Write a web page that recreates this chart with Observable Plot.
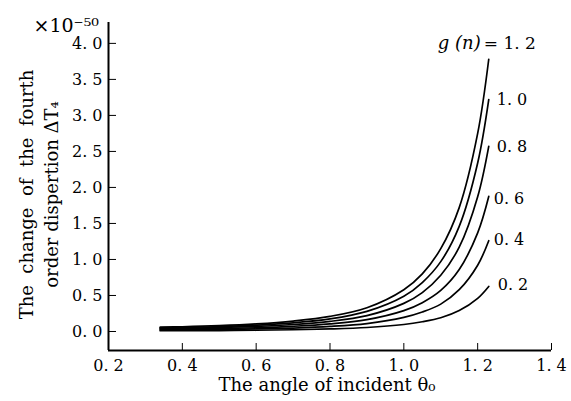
<!DOCTYPE html>
<html><head><meta charset="utf-8">
<script src="https://cdn.jsdelivr.net/npm/d3@7"></script>
<script src="https://cdn.jsdelivr.net/npm/@observablehq/plot@0.6"></script>
<style>body{margin:0;background:#fff}</style>
</head><body><div id="chart"></div>
<script>
// incident angle theta0 (rad)
const angles = [0.34, 0.4, 0.5, 0.6, 0.7, 0.8, 0.9, 1.0, 1.05, 1.1, 1.15, 1.2, 1.23];
// change of fourth order dispersion (x 10^-50), one array per g(n)
const g12 = [0.06, 0.065, 0.08, 0.105, 0.145, 0.21, 0.33, 0.58, 0.80, 1.15, 1.72, 2.75, 3.78];
const g10 = [0.05, 0.055, 0.067, 0.088, 0.12, 0.175, 0.28, 0.49, 0.68, 0.97, 1.46, 2.34, 3.22];
const g08 = [0.04, 0.044, 0.054, 0.07, 0.097, 0.14, 0.22, 0.39, 0.54, 0.78, 1.17, 1.87, 2.57];
const g06 = [0.03, 0.033, 0.04, 0.052, 0.072, 0.105, 0.165, 0.29, 0.40, 0.57, 0.86, 1.37, 1.875];
const g04 = [0.02, 0.022, 0.027, 0.035, 0.048, 0.07, 0.11, 0.195, 0.27, 0.38, 0.58, 0.92, 1.26];
const g02 = [0.01, 0.011, 0.013, 0.017, 0.024, 0.035, 0.055, 0.097, 0.135, 0.19, 0.29, 0.46, 0.625];
const seriesNames = ["1.2", "1.0", "0.8", "0.6", "0.4", "0.2"];
const seriesValues = [g12, g10, g08, g06, g04, g02];
const curveLabels = ["= 1. 2", "1. 0", "0. 8", "0. 6", "0. 4", "0. 2"];
const xTicks = [0.2, 0.4, 0.6, 0.8, 1.0, 1.2, 1.4];
const yTicks = [0, 0.5, 1.0, 1.5, 2.0, 2.5, 3.0, 3.5, 4.0];
const xDomain = [0.2, 1.4];
const yDomain = [-0.264, 4.29];
const xLabel = "The angle of incident θ₀";
const yLabel = ["The\u00a0 change\u00a0 of\u00a0 the\u00a0 fourth", "order dispertion ΔT₄"];
const multiplier = "×10⁻⁵⁰";

const rows = seriesNames.flatMap((g, i) => angles.map((a, j) => ({g, angle: a, value: seriesValues[i][j]})));
const ends = seriesNames.map((g, i) => ({g, angle: angles[angles.length - 1], value: seriesValues[i][seriesValues[i].length - 1], label: curveLabels[i]}));
const fmt = d => d.toFixed(1).replace(".", ". ");

// label offsets (style)
const lblDx = [-5, 8, 8, 5, 5, 9];
const lblDy = [-16, 0, 0, 2, -1, -2];

const labelMarks = ends.map((e, i) => Plot.text([e], {
  x: "angle", y: "value", text: "label",
  textAnchor: "start",
  dx: lblDx[i], dy: lblDy[i], fontSize: i === 0 ? 17 : 16
}));

const chart = Plot.plot({
  width: 571, height: 401,
  marginLeft: 108, marginRight: 20, marginTop: 22, marginBottom: 51,
  style: {fontFamily: "DejaVu Serif", fontSize: "16px", background: "white", color: "black"},
  x: {domain: xDomain, ticks: xTicks, tickSize: -7, tickPadding: 16, tickFormat: fmt, label: null},
  y: {domain: yDomain, ticks: yTicks, tickSize: -8, tickPadding: 14, tickFormat: fmt, label: null},
  marks: [
    Plot.ruleX([xDomain[0]], {strokeWidth: 2}),
    Plot.ruleY([yDomain[0]], {strokeWidth: 2}),
    Plot.line(rows, {x: "angle", y: "value", z: "g", curve: "catmull-rom", strokeWidth: 1.7, stroke: "black"}),
    ...labelMarks,
    Plot.text([ends[0]], {x: "angle", y: "value", text: () => "g (n)", textAnchor: "end", dx: -8, dy: -16, fontSize: 18, fontStyle: "italic"}),
    Plot.text([xLabel], {text: d => d, frameAnchor: "bottom", textAnchor: "middle", lineAnchor: "middle", dx: -3, dy: 35, fontSize: 18}),
    Plot.text([yLabel.join("\n")], {text: d => d, frameAnchor: "left", textAnchor: "middle", lineAnchor: "middle", rotate: -90, dx: -71, dy: 8, fontSize: 18, lineHeight: 1.4}),
    Plot.text([multiplier], {text: d => d, frameAnchor: "top-left", textAnchor: "start", lineAnchor: "middle", dx: -75, dy: 3, fontSize: 19})
  ]
});
document.getElementById("chart").append(chart);
</script>
</body></html>
